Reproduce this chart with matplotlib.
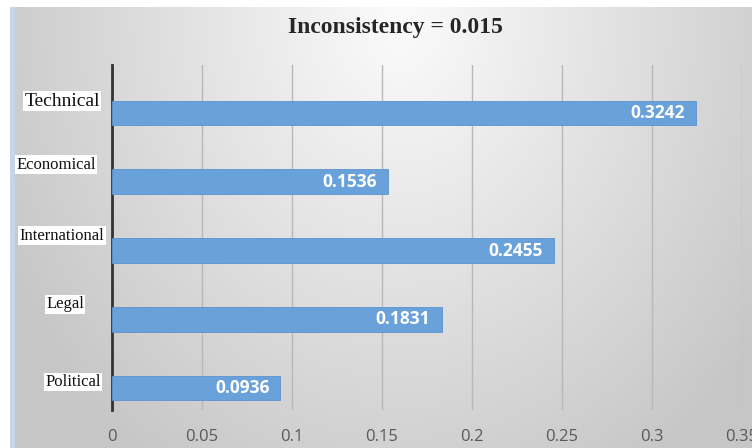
import numpy as np
import matplotlib
matplotlib.use("Agg")
import matplotlib.pyplot as plt

# Daten
categories = ["Technical", "Economical", "International", "Legal", "Political"]
weights = [0.3242, 0.1536, 0.2455, 0.1831, 0.0936]
ticks = [0, 0.05, 0.1, 0.15, 0.2, 0.25, 0.3, 0.35]
tick_labels = ["0", "0.05", "0.1", "0.15", "0.2", "0.25", "0.3", "0.35"]
title = "Inconsistency = 0.015"

# Label-Versatz in Pixel (x = Mitte des Labels, y relativ zur Balkenmitte)
label_x = [62, 56, 62, 65, 73]
label_dy = [12, 17, 15, 15, 6]
label_size = [14, 12, 12, 12, 12]

W, H = 752, 448
fig = plt.figure(figsize=(W / 100, H / 100), dpi=100)

# Hintergrund mit Verlauf
bg = fig.add_axes([0, 0, 1, 1])
yy, xx = np.mgrid[0:H, 0:W]
r = np.sqrt(((xx - 400) / 430.0) ** 2 + ((yy - 20) / 520.0) ** 2)
g = np.clip(0.985 - 0.2 * r, 0.78, 1.0)
img = np.dstack([g, g, g])
img[:7, :, :] = 1.0
img[:, :10, :] = 1.0
img[7:, 10:15, :] = [0.78, 0.84, 0.92]
bg.imshow(img, extent=[0, W, H, 0], aspect="auto")
bg.set_xlim(0, W)
bg.set_ylim(H, 0)
bg.axis("off")

ax = fig.add_axes([112 / W, 1 - 410 / H, 630 / W, 345 / H])
ax.patch.set_alpha(0)
ax.set_xlim(0, 0.35)
ax.set_ylim(-0.32, 4.70)

y = np.arange(len(categories))[::-1]
ax.barh(y, weights, height=0.36, color="#69a1da", edgecolor="#5b93cf", linewidth=0.6, zorder=3)

for yi, w in zip(y, weights):
    ax.annotate(f"{w:.4f}", xy=(w, yi), xytext=(-8, 0), textcoords="offset points",
                ha="right", va="center", color="white", fontsize=12.5, fontweight="bold",
                family="Open Sans", zorder=4)

# Kategorie-Beschriftungen links oberhalb der Balken
for yi, name, lx, dy, fs in zip(y, categories, label_x, label_dy, label_size):
    ax.annotate(name, xy=(lx, yi), xycoords=("figure pixels", "data"),
                xytext=(0, dy * 0.72), textcoords="offset points",
                ha="center", va="center", fontsize=fs,
                family="Liberation Serif", color="#111111", annotation_clip=False,
                bbox=dict(facecolor="white", edgecolor="none", pad=1.0))

ax.set_xticks(ticks)
ax.set_xticklabels(tick_labels, fontsize=12, color="#595959", family="Open Sans")
ax.set_yticks([])
ax.grid(axis="x", color="#b8b8b8", linewidth=1.0, zorder=1)
ax.tick_params(axis="x", length=0, pad=14)
for s in ["top", "right", "bottom"]:
    ax.spines[s].set_visible(False)
ax.spines["left"].set_color("#333333")
ax.spines["left"].set_linewidth(2)

fig.text(395 / W, 1 - 27 / H, title, ha="center", va="center", fontsize=17,
         fontweight="bold", family="Liberation Serif", color="#262626")

fig.savefig("out.png", dpi=100)
